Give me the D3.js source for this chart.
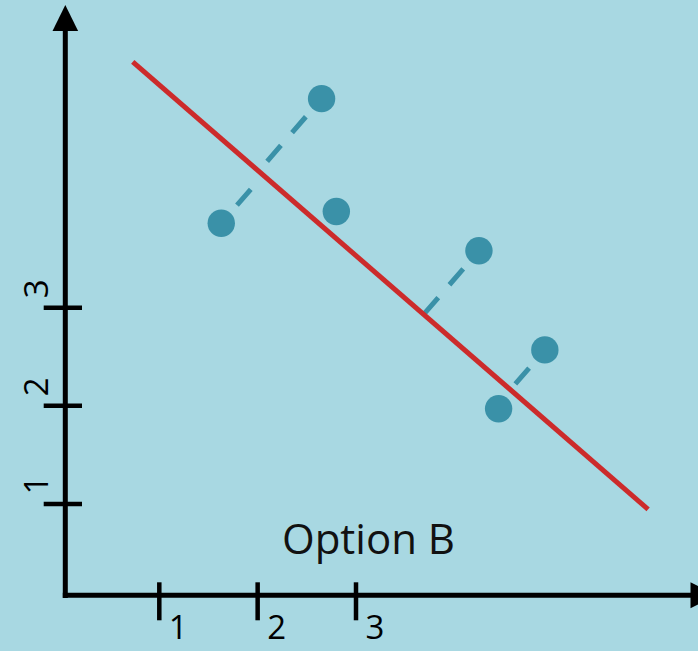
<!DOCTYPE html>
<html>
<head>
<meta charset="utf-8">
<script src="https://cdn.jsdelivr.net/npm/d3@7"></script>
<style>
  html, body { margin: 0; padding: 0; background: #a8d8e2; }
  svg { display: block; }
</style>
</head>
<body>
<svg id="chart" width="698" height="651"></svg>
<script>
// ---- data ----
const xTicks = [1, 2, 3];
const yTicks = [1, 2, 3];
const tickLabels = ["1", "2", "3"];
const pointX = [1.63, 2.65, 2.80, 4.25, 4.92, 4.45];
const pointY = [3.86, 5.13, 3.98, 3.58, 2.57, 1.97];
const hasResidual = [true, true, false, true, true, false];
const fitIntercept = 6.14;
const fitSlope = -0.87;
const fitRange = [0.73, 5.97];
const title = "Option B";

// ---- layout ----
const W = 698, H = 651;
const svg = d3.select("#chart");
svg.append("rect").attr("width", W).attr("height", H).attr("fill", "#a8d8e2");

const x = d3.scaleLinear().domain([1, 3]).range([159.3, 356]);
const y = d3.scaleLinear().domain([1, 3]).range([504, 307.7]);

const axisX = 65.3, axisY = 595.3;
const ink = "#000";
const dotColor = "#3a91a8";
const red = "#cc2b2b";

// axes
svg.append("line").attr("x1", axisX).attr("x2", axisX).attr("y1", axisY + 2.7).attr("y2", 28)
  .attr("stroke", ink).attr("stroke-width", 5);
svg.append("line").attr("x1", axisX - 2.5).attr("x2", 692).attr("y1", axisY).attr("y2", axisY)
  .attr("stroke", ink).attr("stroke-width", 5);
svg.append("path").attr("d", `M${axisX},5 L${axisX + 12.8},31 L${axisX - 12.8},31 Z`).attr("fill", ink);
svg.append("path").attr("d", `M716,${axisY} L690.5,${axisY - 13} L690.5,${axisY + 13} Z`).attr("fill", ink);

// x ticks
svg.selectAll(".xt").data(xTicks).join("line")
  .attr("x1", d => x(d)).attr("x2", d => x(d))
  .attr("y1", axisY - 13).attr("y2", axisY + 25)
  .attr("stroke", ink).attr("stroke-width", 4.5);
svg.selectAll(".xl").data(xTicks).join("text")
  .attr("x", d => x(d) + 19).attr("y", 639)
  .attr("text-anchor", "middle")
  .attr("font-family", "'Open Sans', sans-serif").attr("font-size", 33)
  .attr("fill", ink)
  .text((d, i) => tickLabels[i]);

// y ticks
svg.selectAll(".yt").data(yTicks).join("line")
  .attr("y1", d => y(d)).attr("y2", d => y(d))
  .attr("x1", axisX - 21.6).attr("x2", axisX + 16.7)
  .attr("stroke", ink).attr("stroke-width", 4.5);
svg.selectAll(".yl").data(yTicks).join("text")
  .attr("transform", d => `translate(47.5,${y(d) - 19}) rotate(-90)`)
  .attr("text-anchor", "middle")
  .attr("font-family", "'Open Sans', sans-serif").attr("font-size", 33)
  .attr("fill", ink)
  .text((d, i) => tickLabels[i]);

// residual dashes (perpendicular to the fit line in pixel space)
const p0 = [x(fitRange[0]), y(fitIntercept + fitSlope * fitRange[0])];
const p1 = [x(fitRange[1]), y(fitIntercept + fitSlope * fitRange[1])];
const len = Math.hypot(p1[0] - p0[0], p1[1] - p0[1]);
const u = [(p1[0] - p0[0]) / len, (p1[1] - p0[1]) / len];
const pts = pointX.map((v, i) => ({ px: x(v), py: y(pointY[i]), res: hasResidual[i] }));
pts.forEach(p => {
  const t = (p.px - p0[0]) * u[0] + (p.py - p0[1]) * u[1];
  p.qx = p0[0] + t * u[0];
  p.qy = p0[1] + t * u[1];
});
svg.selectAll(".res").data(pts.filter(p => p.res)).join("line")
  .attr("x1", p => p.px).attr("y1", p => p.py)
  .attr("x2", p => p.qx).attr("y2", p => p.qy)
  .attr("stroke", dotColor).attr("stroke-width", 5)
  .attr("stroke-dasharray", "21,17").attr("stroke-dashoffset", 14);

// fit line
svg.append("line")
  .attr("x1", p0[0]).attr("y1", p0[1]).attr("x2", p1[0]).attr("y2", p1[1])
  .attr("stroke", red).attr("stroke-width", 5);

// points
svg.selectAll(".pt").data(pts).join("circle")
  .attr("cx", p => p.px).attr("cy", p => p.py).attr("r", 13.7)
  .attr("fill", dotColor);

// title
svg.append("text")
  .attr("x", 368.5).attr("y", 553.5)
  .attr("text-anchor", "middle")
  .attr("font-family", "'Open Sans', sans-serif").attr("font-size", 42)
  .attr("fill", "#111")
  .text(title);
</script>
</body>
</html>
